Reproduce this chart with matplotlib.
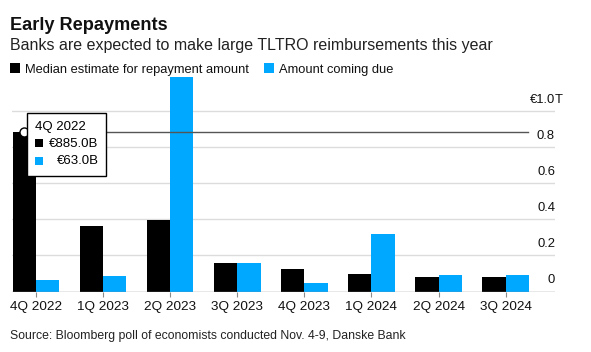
import matplotlib
matplotlib.use("Agg")
import matplotlib.pyplot as plt
from matplotlib.patches import Rectangle
import numpy as np

# Data (trillions of euros)
quarters = ["4Q 2022", "1Q 2023", "2Q 2023", "3Q 2023", "4Q 2023", "1Q 2024", "2Q 2024", "3Q 2024"]
median_repayment = [0.885, 0.362, 0.396, 0.157, 0.123, 0.097, 0.079, 0.079]
amount_due = [0.063, 0.084, 1.193, 0.157, 0.047, 0.320, 0.092, 0.092]
y_ticks = [0, 0.2, 0.4, 0.6, 0.8, 1.0]
y_labels = ["0", "0.2", "0.4", "0.6", "0.8", "€1.0"]

BLUE = "#00a9ff"
W, H = 591, 352

plt.rcParams['font.family'] = ['Liberation Sans', 'DejaVu Sans']

fig = plt.figure(figsize=(W / 100, H / 100), dpi=100)

def fx(px):
    return px / W

def fy(py):
    return 1 - py / H

# axes placed in pixel terms
ax = fig.add_axes([fx(12), fy(291.5), (555 - 12) / W, (291.5 - 72) / H])
x = np.arange(len(quarters))
bw = 0.347
xmin, xmax = -0.358, 7.735
ax.set_xlim(xmin, xmax)
ax.set_ylim(0, 1.2194)

# gridlines
for v in y_ticks[1:]:
    ax.axhline(v, color="#dcdcdc", lw=1, zorder=0)
ax.axhline(0, color="#8a8a8a", lw=1, zorder=3)

ax.bar(x - bw / 2, median_repayment, bw, color="black", zorder=2)
ax.bar(x + bw / 2, amount_due, bw, color=BLUE, zorder=2)

# y labels sit above the gridlines on the right
for v, lab in zip(y_ticks, y_labels):
    ax.text(xmax, v + 0.063, lab, ha="right", va="center", fontsize=9.4, color="#111111")
ax.text(xmax, y_ticks[-1] + 0.063, "T", ha="left", va="center", fontsize=9.4, color="#111111")

for s in ax.spines.values():
    s.set_visible(False)
ax.set_yticks([])
ax.set_xticks(x)
ax.set_xticklabels(quarters, fontsize=9.7, color="#111111")
ax.tick_params(axis="x", length=3.6, width=0.8, color="#8a8a8a", pad=3.5)

# hover line + marker
ax.plot([x[0] - bw / 2, 7.34], [median_repayment[0]] * 2, color="#555555", lw=1, zorder=4)
ax.plot(x[0] - bw / 2, median_repayment[0], "o", ms=6.5, mfc="white", mec="black", mew=1, zorder=6)

# tooltip box
fig.patches.append(Rectangle((fx(27), fy(176)), (106 - 27) / W, (176 - 113) / H,
                             transform=fig.transFigure, facecolor="white",
                             edgecolor="black", lw=1, zorder=10))
fig.text(fx(35), fy(127), quarters[0], fontsize=9.5, va="center", ha="left", zorder=11)
fig.patches.append(Rectangle((fx(35), fy(147)), 8 / W, 7.5 / H, transform=fig.transFigure,
                             facecolor="black", edgecolor="none", zorder=11))
fig.patches.append(Rectangle((fx(35), fy(164.5)), 8 / W, 7.5 / H, transform=fig.transFigure,
                             facecolor=BLUE, edgecolor="none", zorder=11))
fig.text(fx(98.5), fy(144), f"€{median_repayment[0] * 1000:.1f}B", fontsize=9.5, va="center", ha="right", zorder=11)
fig.text(fx(98.5), fy(161), f"€{amount_due[0] * 1000:.1f}B", fontsize=9.5, va="center", ha="right", zorder=11)

# titles
fig.text(fx(10), fy(29.5), "Early Repayments", fontsize=13.1, fontweight="bold", va="baseline", color="#111111")
fig.text(fx(10), fy(50), "Banks are expected to make large TLTRO reimbursements this year",
         fontsize=11.5, va="baseline", color="#222222")

# legend
fig.patches.append(Rectangle((fx(10), fy(72.5)), 9.5 / W, 9.5 / H, transform=fig.transFigure,
                             facecolor="black", edgecolor="none"))
fig.text(fx(25), fy(72.7), "Median estimate for repayment amount", fontsize=9.3, va="baseline", color="#111111")
fig.patches.append(Rectangle((fx(264), fy(72.5)), 9.5 / W, 9.5 / H, transform=fig.transFigure,
                             facecolor=BLUE, edgecolor="none"))
fig.text(fx(279.3), fy(72.7), "Amount coming due", fontsize=9.3, va="baseline", color="#111111")

# source
fig.text(fx(10), fy(338.5), "Source: Bloomberg poll of economists conducted Nov. 4-9, Danske Bank",
         fontsize=8.8, va="baseline", color="#222222")

fig.savefig("out.png", dpi=100, facecolor="white")
